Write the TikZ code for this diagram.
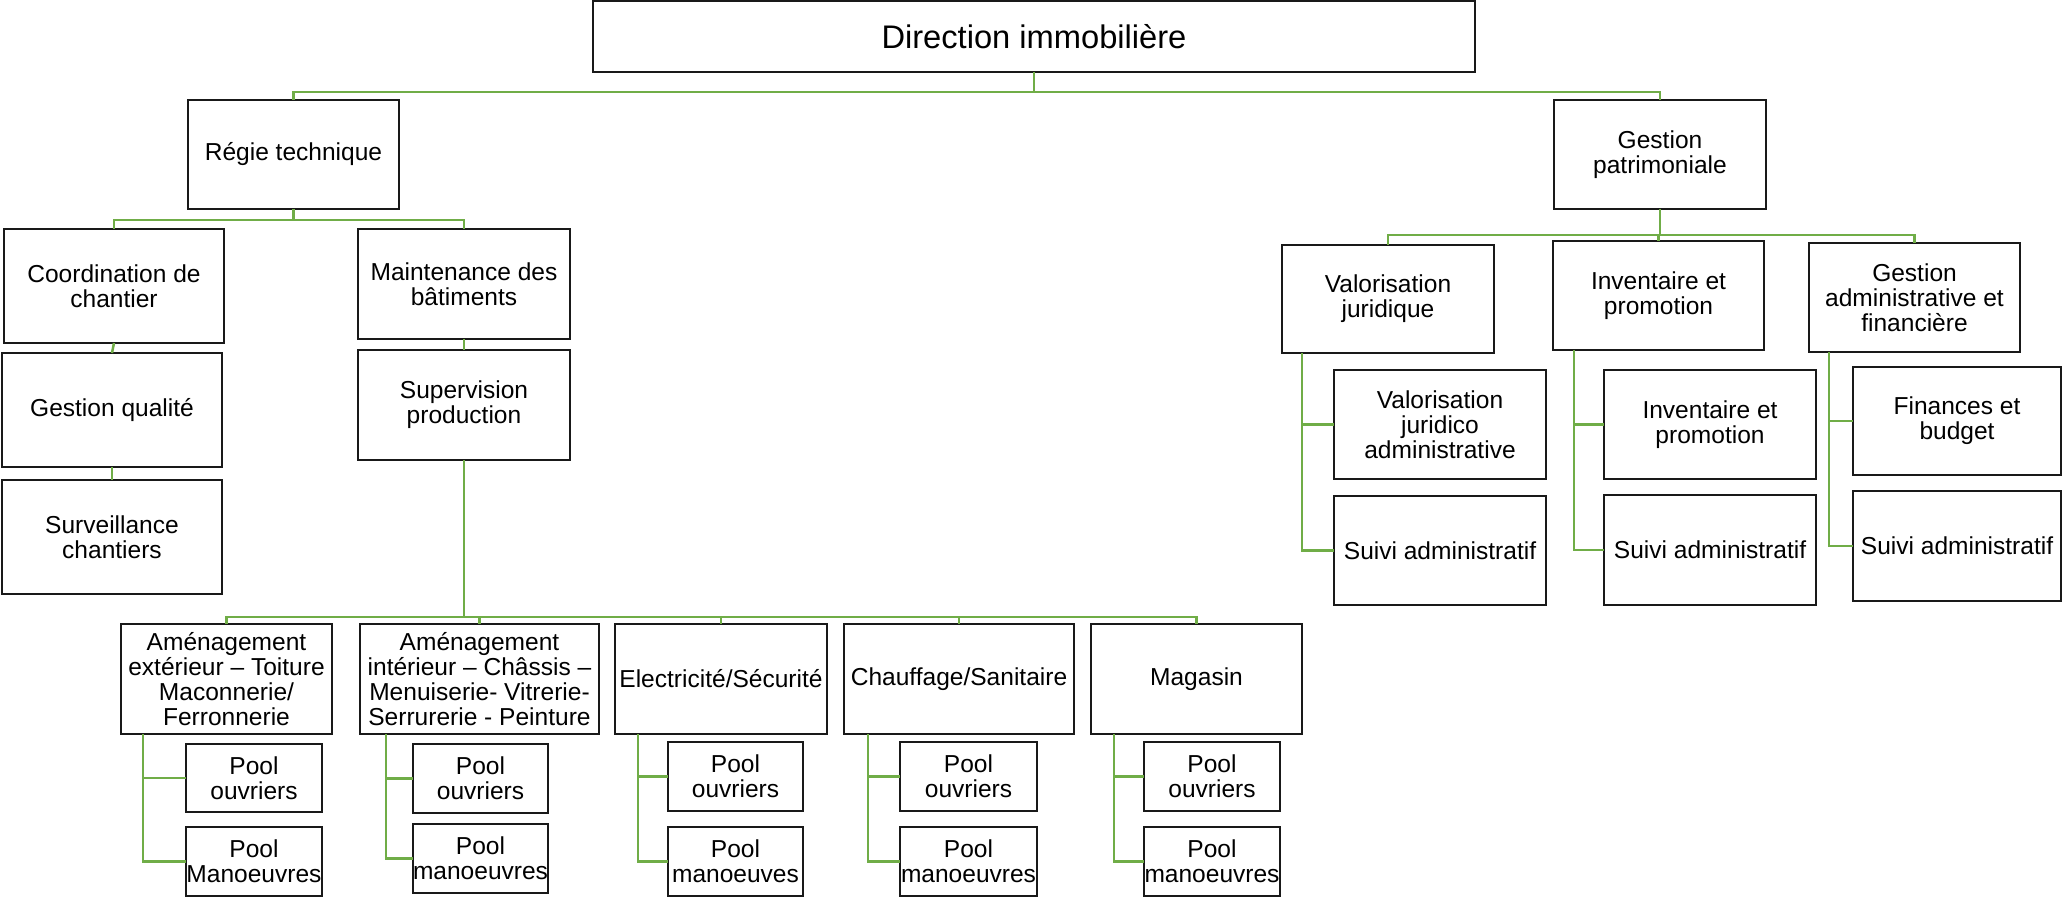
\documentclass[tikz,border=0pt]{standalone}
\usepackage{fontspec}
\setmainfont{Liberation Sans}
\definecolor{conngreen}{RGB}{112,173,71}
\tikzset{
  box/.style={draw=black!90, line width=1.3pt, fill=white, align=center, inner sep=0pt, outer sep=0pt,
    font=\fontsize{18.4}{18.8}\selectfont},
  titlebox/.style={box, font=\fontsize{24.5}{26}\selectfont},
  conn/.style={draw=conngreen, line width=1.9pt}
}
\newcommand\orgbox[7][]{\node[box,#1,minimum width={(#5-#3)*0.75pt},minimum height={(#6-#4)*0.75pt}] (#2) at ({(#3+#5)/2},{(#4+#6)/2}) {#7};}
\begin{document}
\begin{tikzpicture}[x=0.75pt,y=-0.75pt]
\useasboundingbox (0,0) rectangle (2062,898);
\orgbox[titlebox]{dir}{593}{1}{1475}{72}{Direction immobilière}
\orgbox{regie}{188}{100}{399}{209}{Régie technique}
\orgbox{gp}{1554}{100}{1766}{209}{Gestion\\patrimoniale}
\orgbox{coord}{4}{229}{224}{343}{Coordination de\\chantier}
\orgbox{gq}{2}{353}{222}{467}{Gestion qualité}
\orgbox{surv}{2}{480}{222}{594}{Surveillance\\chantiers}
\orgbox{maint}{358}{229}{570}{339}{Maintenance des\\bâtiments}
\orgbox{sup}{358}{350}{570}{460}{Supervision\\production}
\orgbox{vj}{1282}{245}{1494}{353}{Valorisation\\juridique}
\orgbox{ip}{1553}{241}{1764}{350}{Inventaire et\\promotion}
\orgbox{ga}{1809}{243}{2020}{352}{Gestion\\administrative et\\financière}
\orgbox{vja}{1334}{370}{1546}{479}{Valorisation\\juridico\\administrative}
\orgbox{sa1}{1334}{496}{1546}{605}{Suivi administratif}
\orgbox{ipb}{1604}{370}{1816}{479}{Inventaire et\\promotion}
\orgbox{sa2}{1604}{495}{1816}{605}{Suivi administratif}
\orgbox{fb}{1853}{367}{2061}{475}{Finances et\\budget}
\orgbox{sa3}{1853}{491}{2061}{601}{Suivi administratif}
\orgbox{ae}{121}{624}{332}{734}{Aménagement\\extérieur – Toiture\\Maconnerie/\\Ferronnerie}
\orgbox{ai}{360}{624}{599}{734}{Aménagement\\intérieur – Châssis –\\Menuiserie- Vitrerie-\\Serrurerie - Peinture}
\orgbox{el}{615}{624}{827}{734}{Electricité/Sécurité}
\orgbox{ch}{844}{624}{1074}{734}{Chauffage/Sanitaire}
\orgbox{mg}{1091}{624}{1302}{734}{Magasin}
\orgbox{poa}{186}{744}{322}{812}{Pool\\ouvriers}
\orgbox{pma}{186}{827}{322}{896}{Pool\\Manoeuvres}
\orgbox{pob}{413}{744}{548}{813}{Pool\\ouvriers}
\orgbox{pmb}{413}{824}{548}{893}{Pool\\manoeuvres}
\orgbox{poc}{668}{742}{803}{811}{Pool\\ouvriers}
\orgbox{pmc}{668}{827}{803}{896}{Pool\\manoeuves}
\orgbox{pod}{900}{742}{1037}{811}{Pool\\ouvriers}
\orgbox{pmd}{900}{827}{1037}{896}{Pool\\manoeuvres}
\orgbox{poe}{1144}{742}{1280}{811}{Pool\\ouvriers}
\orgbox{pme}{1144}{827}{1280}{896}{Pool\\manoeuvres}
% top level
\draw[conn] (dir.south) -- ++(0,20) -| (regie.north);
\draw[conn] (dir.south) -- ++(0,20) -| (gp.north);
% regie
\draw[conn] (regie.south) -- ++(0,11) -| (coord.north);
\draw[conn] (regie.south) -- ++(0,11) -| (maint.north);
\draw[conn] (coord.south) -- (gq.north);
\draw[conn] (gq.south) -- (surv.north);
\draw[conn] (maint.south) -- (sup.north);
\foreach \n in {ae,ai,el,ch,mg}
  \draw[conn] (sup.south) -- ++(0,157) -| (\n.north);
% gestion patrimoniale
\foreach \n in {vj,ip,ga}
  \draw[conn] (gp.south) -- ++(0,26) -| (\n.north);
\draw[conn] ([xshift=15pt]vj.south west) |- (vja.west);
\draw[conn] ([xshift=15pt]vj.south west) |- (sa1.west);
\draw[conn] ([xshift=15.75pt]ip.south west) |- (ipb.west);
\draw[conn] ([xshift=15.75pt]ip.south west) |- (sa2.west);
\draw[conn] ([xshift=15pt]ga.south west) |- (fb.west);
\draw[conn] ([xshift=15pt]ga.south west) |- (sa3.west);
% pools
\draw[conn] ([xshift=16.5pt]ae.south west) |- (poa.west);
\draw[conn] ([xshift=16.5pt]ae.south west) |- (pma.west);
\draw[conn] ([xshift=19.5pt]ai.south west) |- (pob.west);
\draw[conn] ([xshift=19.5pt]ai.south west) |- (pmb.west);
\draw[conn] ([xshift=17.25pt]el.south west) |- (poc.west);
\draw[conn] ([xshift=17.25pt]el.south west) |- (pmc.west);
\draw[conn] ([xshift=18pt]ch.south west) |- (pod.west);
\draw[conn] ([xshift=18pt]ch.south west) |- (pmd.west);
\draw[conn] ([xshift=17.25pt]mg.south west) |- (poe.west);
\draw[conn] ([xshift=17.25pt]mg.south west) |- (pme.west);
\end{tikzpicture}
\end{document}
